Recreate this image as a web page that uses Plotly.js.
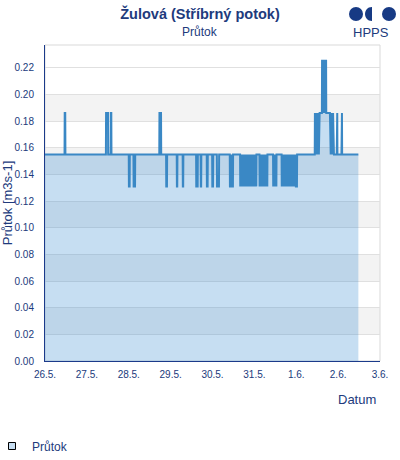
<!DOCTYPE html>
<html><head><meta charset="utf-8">
<script src="https://cdn.plot.ly/plotly-3.0.1.min.js"></script>
<style>html,body{margin:0;padding:0;background:#fff}#chart{width:400px;height:460px}</style>
</head><body><div id="chart"></div>
<script>
// ---- data ----
const seriesName = 'Průtok';
const startDay = [2024, 4, 26];           // 26.5. 00:00 (month is 0-based)
const xTickDates = ['2024-05-26','2024-05-27','2024-05-28','2024-05-29','2024-05-30','2024-05-31','2024-06-01','2024-06-02','2024-06-03'];
const xTickLabels = ['26.5.','27.5.','28.5.','29.5.','30.5.','31.5.','1.6.','2.6.','3.6.'];
const yTickVals = [0,0.02,0.04,0.06,0.08,0.10,0.12,0.14,0.16,0.18,0.20,0.22];
const yBands = [[0.02,0.04],[0.06,0.08],[0.10,0.12],[0.14,0.16],[0.18,0.20]];

// hours since 26.5. 00:00
const hours = [
  0,
  11.2, 11.3, 11.6, 11.7,
  34.9, 35.0, 36.1, 36.2,
  37.6, 37.7, 38.0, 38.1,
  48.0, 48.1, 48.5, 48.6,
  50.7, 50.8, 51.6, 51.7,
  65.5, 65.6, 66.5, 66.6,
  69.4, 69.5, 69.9, 70.0,
  75.5, 75.6, 75.8, 75.9,
  78.9, 79.0, 79.2, 79.3,
  86.6, 86.7, 87.5, 87.6,
  89.2, 89.3, 89.5, 89.6,
  92.7, 92.8, 93.2, 93.3,
  95.8, 95.9, 96.3, 96.4,
  98.5, 98.6, 99.7, 99.8,
  105.9, 106.0, 106.7, 106.85, 107.0, 107.7, 107.8,
  111.8, 111.9, 112.35, 112.8, 113.25, 113.7, 114.15, 114.6, 115.05, 115.5, 115.95, 116.4, 116.85, 117.3, 117.75, 118.2, 118.65, 119.1, 119.55, 120.0, 120.45, 120.9, 121.1, 121.2,
  122.9, 123.0, 123.45, 123.9, 124.35, 124.8, 125.25, 125.7, 126.15, 126.6, 127.05, 127.4, 127.5,
  130.7, 130.8, 131.25, 131.7, 132.15, 132.6, 132.7,
  135.6, 135.7, 136.15, 136.6, 137.05, 137.5, 137.95, 138.4, 138.85, 139.3, 139.75, 140.2, 140.65, 141.1, 141.55, 142.0, 142.45, 142.9, 143.35, 143.8, 144.4, 144.5,
  154.6, 154.7, 155.15, 155.6, 156.05, 156.5, 156.95, 157.4,
  158.7, 158.8, 159.1, 159.4, 159.7, 160.0, 160.3, 160.6, 160.85, 161.1, 161.2,
  163.3, 163.75, 164.2, 164.65, 165.1, 165.6,
  167.2, 167.3, 167.5, 167.6,
  169.9, 170.0, 170.2, 170.3,
  179.6
];
// flow [m3s-1]
const flow = [
  0.155,
  0.155, 0.186, 0.186, 0.155,
  0.155, 0.186, 0.186, 0.155,
  0.155, 0.186, 0.186, 0.155,
  0.155, 0.131, 0.131, 0.155,
  0.155, 0.131, 0.131, 0.155,
  0.155, 0.186, 0.186, 0.155,
  0.155, 0.131, 0.131, 0.155,
  0.155, 0.131, 0.131, 0.155,
  0.155, 0.131, 0.131, 0.155,
  0.155, 0.131, 0.131, 0.155,
  0.155, 0.131, 0.131, 0.155,
  0.155, 0.131, 0.131, 0.155,
  0.155, 0.131, 0.131, 0.155,
  0.155, 0.131, 0.131, 0.155,
  0.155, 0.131, 0.131, 0.155, 0.131, 0.131, 0.155,
  0.155, 0.131, 0.155, 0.131, 0.155, 0.131, 0.155, 0.131, 0.155, 0.131, 0.155, 0.131, 0.155, 0.131, 0.155, 0.131, 0.155, 0.131, 0.155, 0.131, 0.155, 0.131, 0.131, 0.155,
  0.155, 0.131, 0.155, 0.131, 0.155, 0.131, 0.155, 0.131, 0.155, 0.131, 0.155, 0.131, 0.155,
  0.155, 0.131, 0.155, 0.131, 0.155, 0.131, 0.155,
  0.155, 0.131, 0.155, 0.131, 0.155, 0.131, 0.155, 0.131, 0.155, 0.131, 0.155, 0.131, 0.155, 0.131, 0.155, 0.131, 0.155, 0.131, 0.155, 0.131, 0.131, 0.155,
  0.155, 0.186, 0.155, 0.186, 0.155, 0.186, 0.155, 0.186,
  0.186, 0.226, 0.186, 0.226, 0.186, 0.226, 0.186, 0.226, 0.186, 0.226, 0.186,
  0.186, 0.155, 0.186, 0.155, 0.186, 0.155,
  0.155, 0.186, 0.186, 0.155,
  0.155, 0.186, 0.186, 0.155,
  0.155
];

// ---- rendering ----
const pad = n => String(n).padStart(2, '0');
function stamp(h) {
  const d = new Date(Date.UTC(startDay[0], startDay[1], startDay[2]) + Math.round(h * 3600) * 1000);
  return d.getUTCFullYear() + '-' + pad(d.getUTCMonth() + 1) + '-' + pad(d.getUTCDate()) + ' ' +
         pad(d.getUTCHours()) + ':' + pad(d.getUTCMinutes()) + ':' + pad(d.getUTCSeconds());
}
const xs = hours.map(stamp);

const navy = '#213a7c';
const font = 'Liberation Sans, Arial, sans-serif';

const traces = [
  {
    x: xs, y: flow, type: 'scatter', mode: 'lines', name: seriesName,
    line: { color: '#3a88c5', width: 2 },
    fill: 'tozeroy', fillcolor: 'rgba(27,123,203,0.25)',
    showlegend: false, hoverinfo: 'skip'
  },
  {
    x: [null], y: [null], type: 'scatter', mode: 'markers', name: seriesName,
    marker: { symbol: 'square', size: 7, color: '#c6ddf1', line: { color: '#000', width: 1 } },
    showlegend: true
  }
];

const shapes = yBands.map(b => ({
  type: 'rect', xref: 'paper', yref: 'y', x0: 0, x1: 1, y0: b[0], y1: b[1],
  fillcolor: '#f3f3f3', line: { width: 0 }, layer: 'below'
}));
shapes.push({ type: 'rect', xref: 'paper', yref: 'paper', x0: 0, x1: 1, y0: 0, y1: 1,
  line: { color: '#d9d9d9', width: 1 }, fillcolor: 'rgba(0,0,0,0)', layer: 'below' });
// logo (HPPS)
const logoBase = { xref: 'paper', yref: 'paper', xanchor: 1, yanchor: 1, xsizemode: 'pixel', ysizemode: 'pixel',
  fillcolor: '#173a84', line: { width: 0 }, layer: 'above' };
shapes.push(Object.assign({}, logoBase, { type: 'circle', x0: -31, x1: -17, y0: 24, y1: 38 }));
shapes.push(Object.assign({}, logoBase, { type: 'path', path: 'M -8,38 C -17.3,38 -17.3,24 -8,24 Z' }));
shapes.push(Object.assign({}, logoBase, { type: 'circle', x0: 2, x1: 16, y0: 24, y1: 38 }));

const layout = {
  width: 400, height: 460,
  margin: { l: 45, r: 20, t: 45, b: 99, autoexpand: false },
  paper_bgcolor: '#fff', plot_bgcolor: '#fff',
  font: { family: font, color: navy, size: 10 },
  title: {
    text: 'Žulová (Stříbrný potok)',
    font: { family: font, size: 14.5, weight: 'bold', color: navy },
    x: 0.5, xref: 'container', xanchor: 'center',
    y: 1 - 14 / 460, yref: 'container', yanchor: 'middle',
    automargin: false
  },
  xaxis: {
    type: 'date', range: [xTickDates[0], xTickDates[xTickDates.length - 1]],
    tickmode: 'array', tickvals: xTickDates, ticktext: xTickLabels,
    showgrid: false, zeroline: false,
    showline: true, linecolor: '#1b3a8a', linewidth: 1,
    ticks: '', ticklabelstandoff: 4,
    tickfont: { family: font, size: 10, color: navy },
    automargin: false, fixedrange: true
  },
  yaxis: {
    range: [0, 0.2371],
    tickmode: 'array', tickvals: yTickVals, tickformat: '.2f',
    showgrid: true, gridcolor: '#e0e0e0', gridwidth: 1,
    zeroline: false,
    showline: true, linecolor: '#1b3a8a', linewidth: 1,
    ticks: '', ticklabelstandoff: 8,
    tickfont: { family: font, size: 10, color: navy },
    title: { text: 'Průtok [m3s-1]', font: { family: font, size: 13, color: navy }, standoff: 0 },
    automargin: false, fixedrange: true
  },
  showlegend: true,
  legend: {
    x: -53 / 335, xanchor: 'left', y: (361 - 446) / 316, yanchor: 'middle',
    font: { family: font, size: 12, color: navy },
    bgcolor: 'rgba(0,0,0,0)', borderwidth: 0
  },
  annotations: [
    { text: 'Průtok', xref: 'paper', yref: 'paper', x: (200 - 45) / 335, y: (361 - 32) / 316,
      xanchor: 'center', yanchor: 'middle', showarrow: false,
      font: { family: font, size: 12, color: navy } },
    { text: 'Datum', xref: 'paper', yref: 'paper', x: 1, y: (361 - 399) / 316,
      xanchor: 'right', yanchor: 'middle', xshift: -2, showarrow: false,
      font: { family: font, size: 13, color: navy } },
    { text: 'HPPS', xref: 'paper', yref: 'paper', x: 1, y: 1, xanchor: 'center', yanchor: 'middle',
      xshift: -9, yshift: 13, showarrow: false,
      font: { family: font, size: 13, color: navy } }
  ],
  shapes: shapes,
  hovermode: false
};

Plotly.newPlot('chart', traces, layout, { displayModeBar: false, staticPlot: true });
</script>
</body></html>
